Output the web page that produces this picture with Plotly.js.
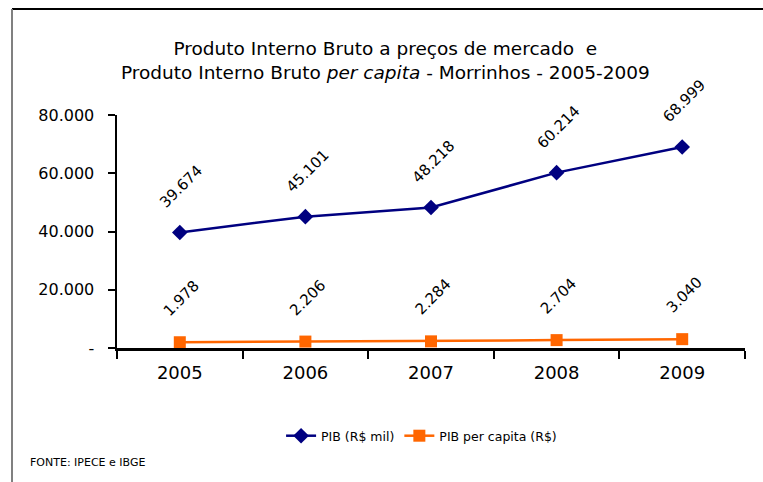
<!DOCTYPE html>
<html>
<head>
<meta charset="utf-8">
<script src="https://cdn.plot.ly/plotly-3.0.1.min.js"></script>
<style>html,body{margin:0;padding:0;background:#fff;}#chart{width:763px;height:482px;}</style>
</head>
<body>
<div id="chart"></div>
<script>
var years = ["2005", "2006", "2007", "2008", "2009"];
var pib = [39674, 45101, 48218, 60214, 68999];
var pibPerCapita = [1978, 2206, 2284, 2704, 3040];
var pibLabels = ["39.674", "45.101", "48.218", "60.214", "68.999"];
var perCapitaLabels = ["1.978", "2.206", "2.284", "2.704", "3.040"];
var yTickVals = [0, 20000, 40000, 60000, 80000];
var yTickText = ["-", "20.000", "40.000", "60.000", "80.000"];

var font = "DejaVu Sans, Arial, sans-serif";

var traces = [
  {
    x: years, y: pib, name: "PIB (R$ mil)", type: "scatter", mode: "lines+markers",
    line: {color: "#000080", width: 2.5},
    marker: {symbol: "diamond", size: 12, color: "#000080"}
  },
  {
    x: years, y: pibPerCapita, name: "PIB per capita (R$)", type: "scatter", mode: "lines+markers",
    line: {color: "#FF6600", width: 2.5},
    marker: {symbol: "square", size: 12, color: "#FF6600"}
  }
];

var annotations = [];
years.forEach(function (yr, i) {
  annotations.push({xref: "x", yref: "y", x: i, y: pib[i], text: pibLabels[i], showarrow: false, textangle: -45,
    yshift: 46, xshift: 2, font: {family: font, size: 15, color: "#000"}});
  annotations.push({xref: "x", yref: "y", x: i, y: pibPerCapita[i], text: perCapitaLabels[i], showarrow: false, textangle: -45,
    yshift: 44, xshift: 2, font: {family: font, size: 15, color: "#000"}});
});
annotations.push({xref: "paper", yref: "paper", x: -0.142, y: -0.49, xanchor: "left", yanchor: "middle",
  text: "FONTE: IPECE e IBGE", showarrow: false, font: {family: font, size: 11, color: "#000"}});

var layout = {
  width: 763, height: 482,
  margin: {l: 117, r: 18, t: 115, b: 134},
  paper_bgcolor: "#fff", plot_bgcolor: "#fff",
  title: {
    text: "Produto Interno Bruto a preços de mercado  e<br>Produto Interno Bruto <i>per capita</i> - Morrinhos - 2005-2009",
    font: {family: font, size: 18.5, color: "#000"},
    x: 0.505, xanchor: "center", y: 0.885, yanchor: "middle"
  },
  xaxis: {
    type: "category", range: [-0.5, 4.5],
    showline: true, linecolor: "#000", linewidth: 2.5,
    ticks: "outside", tickson: "boundaries", ticklen: 8, tickwidth: 2, tickcolor: "#000",
    showgrid: false, zeroline: false,
    tickfont: {family: font, size: 18, color: "#000"}, ticklabelstandoff: 7
  },
  yaxis: {
    range: [0, 80000], tickvals: yTickVals, ticktext: yTickText,
    showline: true, linecolor: "#000", linewidth: 2.5,
    ticks: "outside", ticklen: 7, tickwidth: 2, tickcolor: "#000",
    showgrid: false, zeroline: false,
    tickfont: {family: font, size: 16, color: "#000"}, ticklabelstandoff: 10
  },
  showlegend: true,
  legend: {
    orientation: "h", x: 0.485, xanchor: "center", y: -0.378, yanchor: "middle",
    font: {family: font, size: 12.5, color: "#000"}, bgcolor: "rgba(0,0,0,0)"
  },
  annotations: annotations,
  shapes: [
    {type: "line", xref: "paper", yref: "paper", x0: -0.1672, x1: 1.05, y0: 1.455, y1: 1.455,
      line: {color: "#000", width: 2}},
    {type: "line", xref: "paper", yref: "paper", x0: -0.1672, x1: -0.1672, y0: 1.455, y1: -0.6,
      line: {color: "#808080", width: 2}}
  ]
};

Plotly.newPlot("chart", traces, layout, {displayModeBar: false, staticPlot: true});
</script>
</body>
</html>
